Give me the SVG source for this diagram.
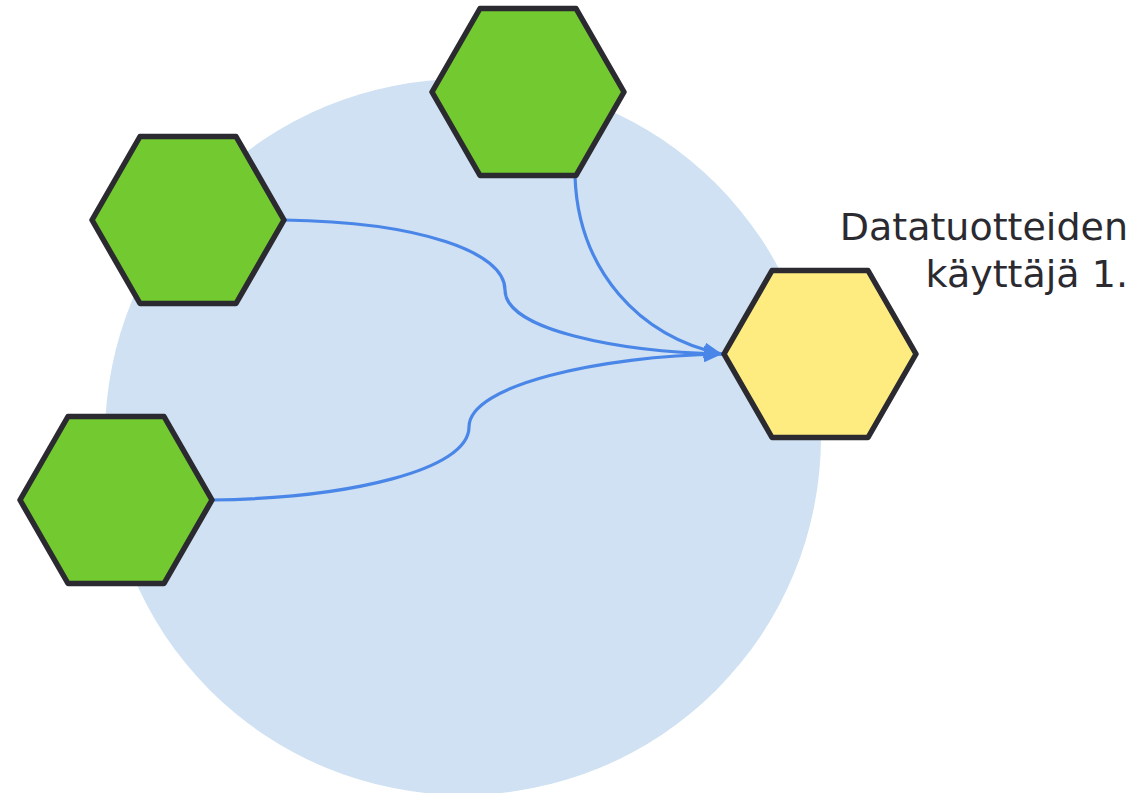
<svg xmlns="http://www.w3.org/2000/svg" width="1148" height="793" viewBox="0 0 1148 793">
<defs>
<style>
.hex{stroke:#2a2a30;stroke-width:5.5;stroke-linejoin:round}
.green{fill:#73c930}
.yellow{fill:#feec80}
.edge{fill:none;stroke:#4a86e8;stroke-width:3.2}
.label{font-family:"DejaVu Sans","Verdana",sans-serif;font-size:38px;fill:#2a2a30}
</style>
<marker id="arrow" markerWidth="18" markerHeight="16" refX="18" refY="8" orient="auto" markerUnits="userSpaceOnUse">
<path d="M0,0 L18,8 L0,16 Z" fill="#4a86e8"/>
</marker>
<polygon id="hexshape" points="-96,0 -48,-83.5 48,-83.5 96,0 48,83.5 -48,83.5"/>
</defs>
<rect width="1148" height="793" fill="#ffffff"/>
<circle id="area" cx="463" cy="437" r="358" fill="#cfe1f2"/>
<g id="connectors">
<path class="edge" d="M284,220 C420,222 505,252 505,290 C505,330 620,352 722,354" marker-end="url(#arrow)"/>
<path class="edge" d="M212,500 C350,498 469,470 469,427 C469,385 600,356 722,354" marker-end="url(#arrow)"/>
<path class="edge" d="M575,176 C578,270 640,338 722,354" marker-end="url(#arrow)"/>
</g>
<g id="node-top"><use href="#hexshape" class="hex green" x="528" y="92"/></g>
<g id="node-upper-left"><use href="#hexshape" class="hex green" x="188" y="220"/></g>
<g id="node-lower-left"><use href="#hexshape" class="hex green" x="116" y="500"/></g>
<g id="node-consumer">
<use href="#hexshape" class="hex yellow" x="820" y="354"/>
<text class="label" text-anchor="end" x="1128" y="240">Datatuotteiden</text>
<text class="label" text-anchor="end" x="1128" y="287">käyttäjä 1.</text>
</g>
</svg>
